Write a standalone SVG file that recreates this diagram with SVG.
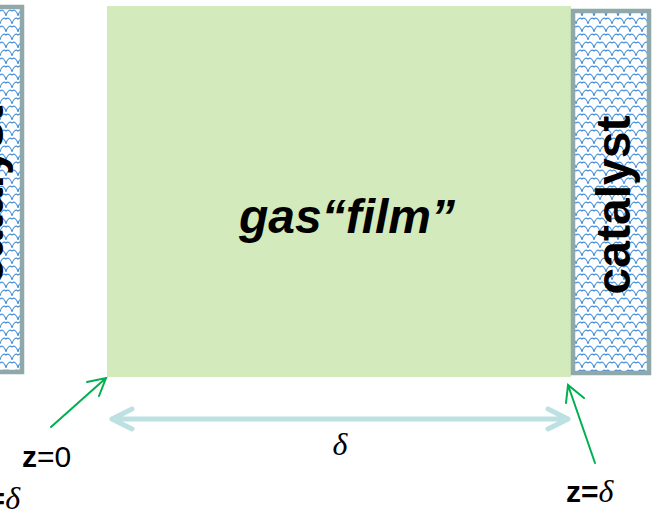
<svg xmlns="http://www.w3.org/2000/svg" width="654" height="515" viewBox="0 0 654 515">
<defs>
<style>
.cat{fill:url(#scale);stroke:#8fa9aa;stroke-width:4.5}
.catt{font-family:"Liberation Sans",Arial,sans-serif;font-weight:bold;font-size:48px;fill:#000;text-anchor:middle}
.lbl{font-family:"Liberation Sans",Arial,sans-serif;font-size:30px;fill:#000}
.dl{font-family:"Liberation Serif","Times New Roman",serif;font-style:italic;font-size:32px;fill:#000}
.grn{stroke:#00b050;stroke-width:2;fill:none;stroke-linecap:round}
.blu{stroke:#bde0e2;stroke-width:5;fill:none;stroke-linecap:round;stroke-linejoin:round}
</style>
<pattern id="scale" width="12" height="16" patternUnits="userSpaceOnUse">
<rect width="12" height="16" fill="#fff"/>
<path d="M0 8 C1 3 4 1 6 3 C8 1 11 3 12 8 M-6 16 C-5 11 -2 9 0 11 C2 9 5 11 6 16 C7 11 10 9 12 11 C14 9 17 11 18 16 M-6 0 C-5 -5 -2 -7 0 -5 C2 -7 5 -5 6 0 C7 -5 10 -7 12 -5 C14 -7 17 -5 18 0" fill="none" stroke="#4a92d8" stroke-width="1.1"/>
</pattern>
</defs>
<g id="catalyst-left">
<rect class="cat" x="-56" y="7" width="78" height="365"/>
<text class="catt" transform="translate(3,195) rotate(-90)">catalyst</text>
</g>
<g id="gas-film">
<rect x="107" y="6" width="464" height="371" fill="#d3eabc"/>
<text x="347" y="233" font-family="Liberation Sans, Arial, sans-serif" font-weight="bold" font-style="italic" font-size="48" text-anchor="middle">gas“film”</text>
</g>
<g id="catalyst-right">
<rect class="cat" x="573" y="11" width="76" height="362"/>
<text class="catt" transform="translate(630,205) rotate(-90)">catalyst</text>
</g>
<g id="connectors">
<path class="blu" d="M112 419 H568 M132 409 L112 419 L132 429 M548 409 L568 419 L548 429"/>
<path class="grn" d="M51 427 L106 378 M87 382 L106 378 L99 396"/>
<path class="grn" d="M595 463 L568 385 M566 403 L568 385 L584 398"/>
</g>
<g id="labels">
<text class="dl" x="340" y="455" text-anchor="middle">δ</text>
<text class="lbl" x="22" y="467"><tspan font-weight="bold">z</tspan>=0</text>
<text class="lbl" x="20" y="509" text-anchor="end"><tspan font-weight="bold">z=</tspan><tspan class="dl">δ</tspan></text>
<text class="lbl" x="566" y="502"><tspan font-weight="bold">z=</tspan><tspan class="dl">δ</tspan></text>
</g>
</svg>
